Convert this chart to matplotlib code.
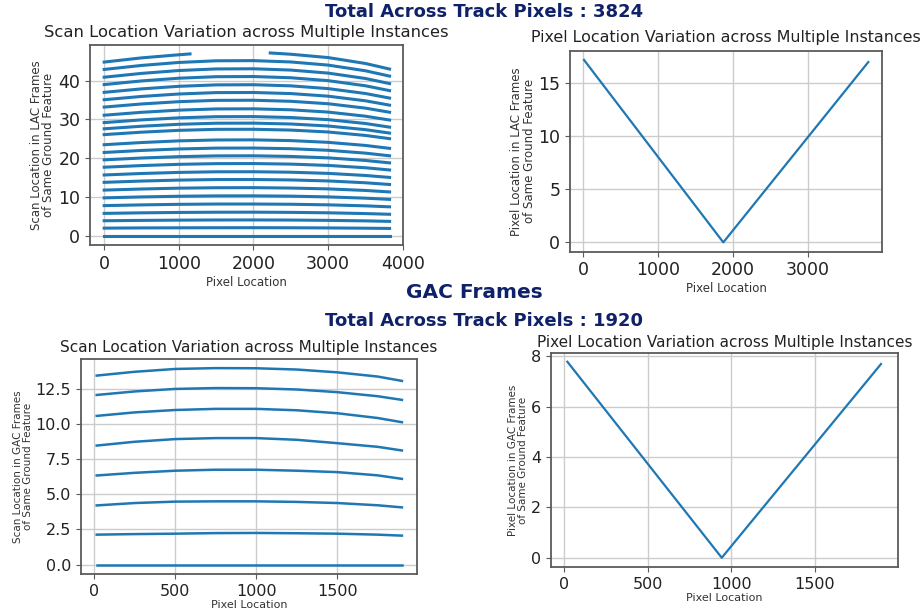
import numpy as np
import matplotlib
matplotlib.use("Agg")
import matplotlib.pyplot as plt

# ---- LAC frames : scan location of the same ground feature (24 instances)
lac_x = [0, 500, 1000, 1500, 2000, 2500, 3000, 3500, 3824]
lac_scan = [
    [0.00, 0.00, 0.00, 0.00, 0.00, 0.00, 0.00, 0.00, 0.00],
    [2.00, 2.05, 2.08, 2.10, 2.11, 2.09, 2.05, 1.98, 1.92],
    [3.90, 3.99, 4.06, 4.10, 4.11, 4.08, 4.00, 3.87, 3.74],
    [5.80, 5.94, 6.04, 6.10, 6.11, 6.06, 5.95, 5.75, 5.57],
    [7.80, 7.99, 8.13, 8.21, 8.21, 8.15, 8.00, 7.74, 7.49],
    [9.80, 10.04, 10.21, 10.31, 10.32, 10.24, 10.05, 9.72, 9.41],
    [11.80, 12.08, 12.30, 12.41, 12.43, 12.33, 12.11, 11.71, 11.33],
    [13.80, 14.13, 14.38, 14.52, 14.53, 14.42, 14.16, 13.69, 13.25],
    [15.70, 16.08, 16.36, 16.52, 16.53, 16.41, 16.11, 15.57, 15.07],
    [17.70, 18.12, 18.44, 18.62, 18.64, 18.50, 18.16, 17.56, 16.99],
    [19.60, 20.07, 20.42, 20.62, 20.64, 20.48, 20.11, 19.44, 18.82],
    [21.50, 22.02, 22.40, 22.62, 22.64, 22.47, 22.06, 21.33, 20.64],
    [23.50, 24.06, 24.49, 24.72, 24.75, 24.56, 24.11, 23.31, 22.56],
    [26.10, 26.73, 27.20, 27.46, 27.48, 27.27, 26.78, 25.89, 25.06],
    [27.60, 28.26, 28.76, 29.04, 29.06, 28.84, 28.32, 27.38, 26.50],
    [29.20, 29.90, 30.43, 30.72, 30.75, 30.51, 29.96, 28.97, 28.03],
    [31.10, 31.85, 32.41, 32.72, 32.75, 32.50, 31.91, 30.85, 29.86],
    [33.20, 34.00, 34.59, 34.93, 34.96, 34.69, 34.06, 32.93, 31.87],
    [35.10, 35.94, 36.57, 36.93, 36.96, 36.68, 36.01, 34.82, 33.70],
    [37.00, 37.89, 38.55, 38.92, 38.96, 38.67, 37.96, 36.70, 35.52],
    [39.00, 39.94, 40.64, 41.03, 41.07, 40.76, 40.01, 38.69, 37.44],
    [40.90, 41.88, 42.62, 43.03, 43.07, 42.74, 41.96, 40.57, 39.26],
    [42.90, 43.93, 44.70, 45.13, 45.17, 44.83, 44.02, 42.56, 41.18],
]
# top instance has a gap in the middle
lac_top_x = [0, 500, 1000, 1150, np.nan, 2225, 2500, 3000, 3500, 3824]
lac_top_y = [44.80, 45.88, 46.68, 46.90, np.nan, 47.15, 46.82, 45.96, 44.44, 43.00]

# ---- LAC frames : pixel location of the same ground feature
lac_pix_x = [13, 1873, 3809]
lac_pix_y = [17.2, 0.0, 17.0]

# ---- GAC frames : scan location (8 instances)
gac_x = [15, 250, 500, 750, 1000, 1250, 1500, 1750, 1900]
gac_scan = [
    [0.00, 0.00, 0.00, 0.00, 0.00, 0.00, 0.00, 0.00, 0.00],
    [2.13, 2.17, 2.20, 2.24, 2.25, 2.23, 2.20, 2.13, 2.06],
    [4.21, 4.38, 4.48, 4.50, 4.50, 4.46, 4.38, 4.22, 4.07],
    [6.34, 6.53, 6.68, 6.75, 6.75, 6.68, 6.58, 6.35, 6.10],
    [8.47, 8.74, 8.93, 9.00, 9.00, 8.88, 8.64, 8.38, 8.12],
    [10.58, 10.83, 11.00, 11.08, 11.08, 10.98, 10.77, 10.43, 10.13],
    [12.07, 12.32, 12.50, 12.56, 12.55, 12.46, 12.27, 11.98, 11.72],
    [13.45, 13.72, 13.92, 13.98, 13.97, 13.88, 13.68, 13.38, 13.07],
]

# ---- GAC frames : pixel location
gac_pix_x = [18, 942, 1895]
gac_pix_y = [7.79, 0.0, 7.70]

line_color = '#1f77b4'
heading_color = '#0f2168'
W, H = 922, 611

fig = plt.figure(figsize=(W / 100, H / 100), dpi=100)


def make_axes(box):
    # box = (left, top, right, bottom) in pixels
    l, t, r, b = box
    ax = fig.add_axes([l / W, (H - b) / H, (r - l) / W, (b - t) / H])
    ax.grid(True, color='#cccccc', linewidth=1.0)
    ax.set_axisbelow(True)
    for sp in ax.spines.values():
        sp.set_color('#5a5a5a')
        sp.set_linewidth(1.3)
    ax.tick_params(direction='out', length=3.5, color='#5a5a5a',
                   labelcolor='#222222')
    return ax


# Top left: LAC scan location
ax1 = make_axes((90, 45, 402.7, 245))
for ys in lac_scan:
    ax1.plot(lac_x, ys, color=line_color, linewidth=2.2)
ax1.plot(lac_top_x, lac_top_y, color=line_color, linewidth=2.2)
ax1.set_xlim(-190, 4000)
ax1.set_ylim(-2.35, 49.2)
ax1.set_xticks([0, 1000, 2000, 3000, 4000])
ax1.set_yticks([0, 10, 20, 30, 40])
ax1.tick_params(labelsize=12.5)
ax1.set_title('Scan Location Variation across Multiple Instances',
              fontsize=11.8, color='#222222', pad=6)
ax1.set_xlabel('Pixel Location', fontsize=8.5, color='#333333', labelpad=2)
ax1.set_ylabel('Scan Location in LAC Frames\nof Same Ground Feature',
               fontsize=8.5, color='#333333', labelpad=2, linespacing=1.0)

# Top right: LAC pixel location
ax2 = make_axes((570, 50.7, 882.3, 251.7))
ax2.plot(lac_pix_x, lac_pix_y, color=line_color, linewidth=1.6)
ax2.set_xlim(-174, 3996)
ax2.set_ylim(-0.88, 18.07)
ax2.set_xticks([0, 1000, 2000, 3000])
ax2.set_yticks([0, 5, 10, 15])
ax2.tick_params(labelsize=12.5)
ax2.set_title('Pixel Location Variation across Multiple Instances',
              fontsize=11.4, color='#222222', pad=6)
ax2.set_xlabel('Pixel Location', fontsize=8.5, color='#333333', labelpad=2)
ax2.set_ylabel('Pixel Location in LAC Frames\nof Same Ground Feature',
               fontsize=8.5, color='#333333', labelpad=2, linespacing=1.0)

# Bottom left: GAC scan location
ax3 = make_axes((80.7, 358.7, 417.3, 574))
for ys in gac_scan:
    ax3.plot(gac_x, ys, color=line_color, linewidth=1.8)
ax3.set_xlim(-84, 1995)
ax3.set_ylim(-0.67, 14.65)
ax3.set_xticks([0, 500, 1000, 1500])
ax3.set_yticks([0, 2.5, 5, 7.5, 10, 12.5])
ax3.set_yticklabels(['0.0', '2.5', '5.0', '7.5', '10.0', '12.5'])
ax3.tick_params(labelsize=11.5)
ax3.set_title('Scan Location Variation across Multiple Instances',
              fontsize=11, color='#222222', pad=5)
ax3.set_xlabel('Pixel Location', fontsize=8, color='#333333', labelpad=1)
ax3.set_ylabel('Scan Location in GAC Frames\nof Same Ground Feature',
               fontsize=7.5, color='#333333', labelpad=2, linespacing=1.0)

# Bottom right: GAC pixel location
ax4 = make_axes((551, 352.7, 897.7, 567.3))
ax4.plot(gac_pix_x, gac_pix_y, color=line_color, linewidth=1.6)
ax4.set_xlim(-80, 1995)
ax4.set_ylim(-0.38, 8.15)
ax4.set_xticks([0, 500, 1000, 1500])
ax4.set_yticks([0, 2, 4, 6, 8])
ax4.tick_params(labelsize=11.5)
ax4.set_title('Pixel Location Variation across Multiple Instances',
              fontsize=11, color='#222222', pad=4)
ax4.set_xlabel('Pixel Location', fontsize=8, color='#333333', labelpad=1)
ax4.set_ylabel('Pixel Location in GAC Frames\nof Same Ground Feature',
               fontsize=7.5, color='#333333', labelpad=2, linespacing=1.0)

# Headings
fig.text(484 / W, 1 - 12 / H, 'Total Across Track Pixels : 3824',
         ha='center', va='center', fontsize=13, fontweight='bold',
         color=heading_color)
fig.text(474 / W, 1 - 293 / H, 'GAC Frames',
         ha='center', va='center', fontsize=14.5, fontweight='bold',
         color=heading_color)
fig.text(484 / W, 1 - 321 / H, 'Total Across Track Pixels : 1920',
         ha='center', va='center', fontsize=13, fontweight='bold',
         color=heading_color)

fig.savefig('out.png', dpi=100)
